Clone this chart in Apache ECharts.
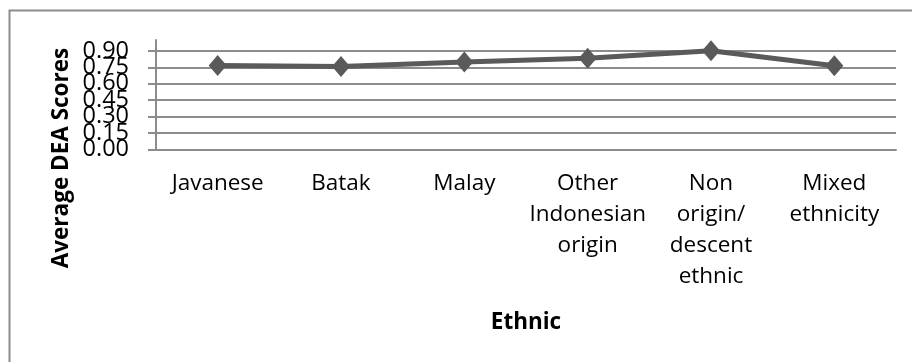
<!DOCTYPE html>
<html>
<head>
<meta charset="utf-8">
<script src="https://cdn.jsdelivr.net/npm/echarts@6/dist/echarts.min.js"></script>
<style>
  html, body { margin: 0; padding: 0; background: #ffffff; }
  #chart { width: 912px; height: 362px; }
</style>
</head>
<body>
<div id="chart"></div>
<script>
// Ethnic groups along the category axis
var categories = [
  'Javanese',
  'Batak',
  'Malay',
  'Other\nIndonesian\norigin',
  'Non\norigin/\ndescent\nethnic',
  'Mixed\nethnicity'
];

// Average DEA efficiency score per group
var scores = [0.767, 0.758, 0.798, 0.834, 0.901, 0.764];

// Value-axis ticks
var yTicks = [0, 0.15, 0.30, 0.45, 0.60, 0.75, 0.90];

var FONT = 'Open Sans';
var GRID_GRAY = '#8c8c8c';
var LINE_GRAY = '#5a5a5a';
var GRID_LEFT = 156;
var TICK_LEN = 8;
var LABEL_GAP = 19;

var chart = echarts.init(document.getElementById('chart'), null, { renderer: 'canvas' });

chart.setOption({
  animation: false,
  backgroundColor: '#ffffff',
  grid: {
    left: GRID_LEFT,
    right: 16,
    top: 40,
    bottom: 212.5,
    containLabel: false
  },
  xAxis: {
    type: 'category',
    data: categories,
    boundaryGap: true,
    axisLine: { show: true, lineStyle: { color: GRID_GRAY, width: 2 } },
    axisTick: { show: false },
    splitLine: { show: false },
    axisLabel: {
      interval: 0,
      margin: 19,
      fontFamily: FONT,
      fontSize: 22.5,
      lineHeight: 31,
      color: '#000000',
      align: 'center'
    },
    name: 'Ethnic',
    nameLocation: 'middle',
    nameGap: 162,
    nameTextStyle: {
      fontFamily: FONT,
      fontSize: 22.5,
      fontWeight: 'bold',
      color: '#000000'
    }
  },
  yAxis: {
    type: 'value',
    min: 0,
    max: 1.0,
    interval: 0.15,
    axisLine: { show: true, lineStyle: { color: GRID_GRAY, width: 2 } },
    axisTick: {
      show: true,
      inside: false,
      length: TICK_LEN,
      customValues: yTicks,
      lineStyle: { color: GRID_GRAY, width: 2 }
    },
    splitLine: {
      show: true,
      lineStyle: { color: GRID_GRAY, width: 2 }
    },
    // the tick labels sit so close together that the axis would thin them
    // out; they are drawn below as graphic texts instead
    axisLabel: { show: false }
  },
  series: [{
    type: 'line',
    data: scores,
    symbol: 'diamond',
    symbolSize: [18, 21],
    showSymbol: true,
    lineStyle: { color: LINE_GRAY, width: 5 },
    itemStyle: { color: LINE_GRAY },
    z: 5
  }]
});

// Value-axis labels, placed through the axis scale
var graphics = [
  {
    type: 'rect',
    shape: { x: 9.5, y: 10.5, width: 1200, height: 1200 },
    style: { fill: 'none', stroke: GRID_GRAY, lineWidth: 2 },
    silent: true,
    z: 0
  },
  {
    type: 'text',
    x: 62,
    y: 158,
    rotation: Math.PI / 2,
    style: {
      text: 'Average DEA Scores',
      font: 'bold 22.5px "Open Sans"',
      fill: '#000000',
      align: 'center',
      verticalAlign: 'middle'
    },
    silent: true
  }
];

yTicks.forEach(function (v) {
  var py = chart.convertToPixel({ yAxisIndex: 0 }, v);
  graphics.push({
    type: 'text',
    x: GRID_LEFT - TICK_LEN - LABEL_GAP,
    y: py,
    z: 10,
    style: {
      text: v.toFixed(2),
      font: '23.5px "Open Sans"',
      fill: '#000000',
      align: 'right',
      verticalAlign: 'middle'
    },
    silent: true
  });
});

chart.setOption({ graphic: graphics });
</script>
</body>
</html>
